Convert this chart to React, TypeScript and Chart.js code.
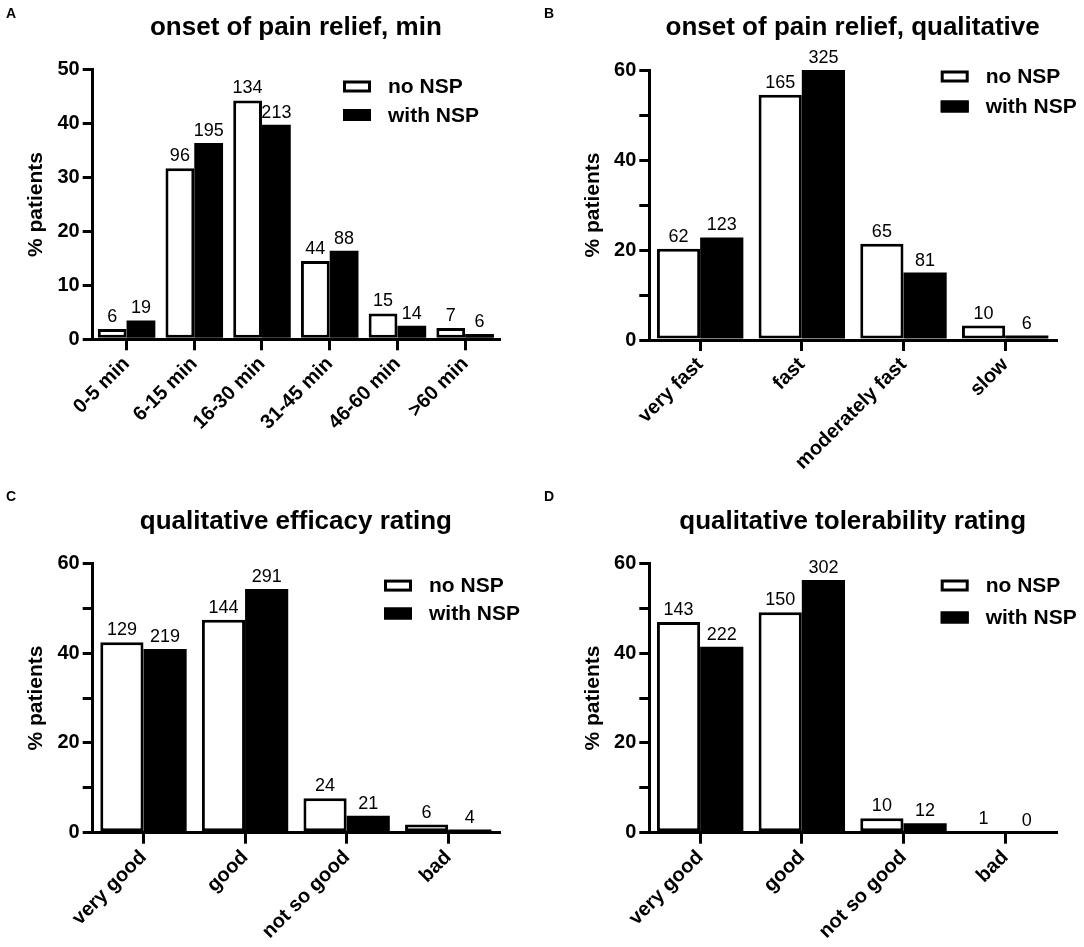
import { useEffect, useRef } from 'react'
import { Chart, registerables } from 'chart.js'

Chart.register(...registerables)

const FONT = "'Liberation Sans', Arial, Helvetica, sans-serif"

// series names (legend)
const seriesNames = ['no NSP', 'with NSP']

// A: onset of pain relief, min
const onsetMinLabels = ['0-5 min', '6-15 min', '16-30 min', '31-45 min', '46-60 min', '>60 min']
const onsetMinNo = [1.9, 31.7, 44.3, 14.5, 4.8, 2.1]
const onsetMinWith = [3.5, 36.4, 39.8, 16.4, 2.5, 1.0]
const onsetMinNoN = [6, 96, 134, 44, 15, 7]
const onsetMinWithN = [19, 195, 213, 88, 14, 6]

// B: onset of pain relief, qualitative
const onsetQualLabels = ['very fast', 'fast', 'moderately fast', 'slow']
const onsetQualNo = [20.3, 54.5, 21.4, 3.2]
const onsetQualWith = [22.8, 60, 15.0, 1.0]
const onsetQualNoN = [62, 165, 65, 10]
const onsetQualWithN = [123, 325, 81, 6]

// C: qualitative efficacy rating
const efficacyLabels = ['very good', 'good', 'not so good', 'bad']
const efficacyNo = [42.4, 47.4, 7.7, 1.8]
const efficacyWith = [40.9, 54.3, 3.8, 0.7]
const efficacyNoN = [129, 144, 24, 6]
const efficacyWithN = [219, 291, 21, 4]

// D: qualitative tolerability rating
const tolerabilityLabels = ['very good', 'good', 'not so good', 'bad']
const tolerabilityNo = [46.9, 49.1, 3.2, 0.3]
const tolerabilityWith = [41.4, 56.3, 2.1, 0]
const tolerabilityNoN = [143, 150, 10, 1]
const tolerabilityWithN = [222, 302, 12, 0]

// y ticks
const yTicksMin = [0, 10, 20, 30, 40, 50]
const yLabelsMin = [0, 10, 20, 30, 40, 50]
const yTicksQual = [0, 10, 20, 30, 40, 50, 60]
const yLabelsQual = [0, 20, 40, 60]

type Panel = {
  letter: string
  title: string
  labels: string[]
  values: number[][]
  counts: number[][]
  max: number
  ticks: number[]
  tickLabels: number[]
  box: { left: number; top: number; width: number; height: number }
  area: { left: number; top: number; right: number; bottom: number }
  letterPos: [number, number]
  titleY: number
  legendX: number
  legendRows: number[]
}

const panels: Panel[] = [
  {
    letter: 'A',
    title: 'onset of pain relief, min',
    labels: onsetMinLabels,
    values: [onsetMinNo, onsetMinWith],
    counts: [onsetMinNoN, onsetMinWithN],
    max: 50,
    ticks: yTicksMin,
    tickLabels: yLabelsMin,
    box: { left: 0, top: 0, width: 542, height: 470 },
    area: { left: 92.7, top: 69.7, right: 499, bottom: 339.3 },
    letterPos: [6, 18],
    titleY: 35,
    legendX: 343,
    legendRows: [86.5, 115],
  },
  {
    letter: 'B',
    title: 'onset of pain relief, qualitative',
    labels: onsetQualLabels,
    values: [onsetQualNo, onsetQualWith],
    counts: [onsetQualNoN, onsetQualWithN],
    max: 60,
    ticks: yTicksQual,
    tickLabels: yLabelsQual,
    box: { left: 542, top: 0, width: 542, height: 500 },
    area: { left: 107.3, top: 70, right: 514, bottom: 340 },
    letterPos: [2, 18],
    titleY: 35,
    legendX: 398.7,
    legendRows: [76.5, 106.5],
  },
  {
    letter: 'C',
    title: 'qualitative efficacy rating',
    labels: efficacyLabels,
    values: [efficacyNo, efficacyWith],
    counts: [efficacyNoN, efficacyWithN],
    max: 60,
    ticks: yTicksQual,
    tickLabels: yLabelsQual,
    box: { left: 0, top: 470, width: 542, height: 477 },
    area: { left: 92.7, top: 93.3, right: 499, bottom: 362.7 },
    letterPos: [6, 31],
    titleY: 59,
    legendX: 384,
    legendRows: [115.6, 143.5],
  },
  {
    letter: 'D',
    title: 'qualitative tolerability rating',
    labels: tolerabilityLabels,
    values: [tolerabilityNo, tolerabilityWith],
    counts: [tolerabilityNoN, tolerabilityWithN],
    max: 60,
    ticks: yTicksQual,
    tickLabels: yLabelsQual,
    box: { left: 542, top: 470, width: 542, height: 477 },
    area: { left: 107.3, top: 93.3, right: 514, bottom: 362.7 },
    letterPos: [2, 31],
    titleY: 59,
    legendX: 398.7,
    legendRows: [115.5, 147.5],
  },
]

const fills = ['#ffffff', '#000000']
const borders = [3, 0]

function decorPlugin(p: Panel) {
  return {
    id: 'decor',
    afterDatasetsDraw(chart: any) {
      const ctx = chart.ctx
      ctx.save()
      ctx.fillStyle = '#000'
      ctx.font = `18px ${FONT}`
      ctx.textAlign = 'center'
      ctx.textBaseline = 'alphabetic'
      chart.data.datasets.forEach((_ds: any, di: number) => {
        chart.getDatasetMeta(di).data.forEach((bar: any, i: number) => {
          ctx.fillText(String(p.counts[di][i]), bar.x, bar.y - 7)
        })
      })
      ctx.restore()
    },
    afterDraw(chart: any) {
      const ctx = chart.ctx
      const a = chart.chartArea
      ctx.save()
      ctx.fillStyle = '#000'
      ctx.textBaseline = 'alphabetic'

      ctx.font = `bold 26px ${FONT}`
      ctx.textAlign = 'center'
      ctx.fillText(p.title, (a.left + a.right) / 2, p.titleY)

      ctx.font = `bold 14px ${FONT}`
      ctx.textAlign = 'left'
      ctx.fillText(p.letter, p.letterPos[0], p.letterPos[1])

      // legend
      ctx.font = `bold 21px ${FONT}`
      ctx.textBaseline = 'middle'
      chart.data.datasets.forEach((ds: any, di: number) => {
        const y = p.legendRows[di]
        ctx.fillStyle = ds.backgroundColor
        ctx.fillRect(p.legendX, y - 6, 28, 12)
        ctx.strokeStyle = '#000'
        ctx.lineWidth = 3
        ctx.strokeRect(p.legendX + 1.5, y - 4.5, 25, 9)
        ctx.fillStyle = '#000'
        ctx.fillText(ds.label, p.legendX + 45, y + 1)
      })
      ctx.restore()
    },
  }
}

function BarPanel({ p }: { p: Panel }) {
  const canvasRef = useRef<HTMLCanvasElement>(null)

  useEffect(() => {
    if (!canvasRef.current) return
    const { box, area } = p
    const titleFont = { family: FONT, size: 21, weight: 'bold' as const, lineHeight: 1.2 }

    const chart = new Chart(canvasRef.current, {
      type: 'bar',
      data: {
        labels: p.labels,
        datasets: p.values.map((vals, i) => ({
          label: seriesNames[i],
          data: vals,
          backgroundColor: fills[i],
          borderColor: '#000',
          borderWidth: borders[i],
          borderSkipped: false,
          categoryPercentage: 0.85,
          barPercentage: 1,
        })),
      },
      options: {
        responsive: false,
        animation: false,
        events: [],
        layout: {
          padding: { left: 0, top: area.top, right: box.width - area.right, bottom: 0 },
        },
        plugins: {
          legend: { display: false },
          tooltip: { enabled: false },
          title: { display: false },
        },
        scales: {
          x: {
            offset: true,
            afterFit: (scale: any) => {
              scale.height = box.height - area.bottom
            },
            grid: {
              display: true,
              offset: false,
              drawOnChartArea: false,
              drawTicks: true,
              tickLength: 11,
              color: '#000',
              lineWidth: 3,
              tickWidth: 3,
            },
            border: { display: true, color: '#000', width: 3 },
            ticks: {
              autoSkip: false,
              minRotation: 45,
              maxRotation: 45,
              padding: 2,
              color: '#000',
              font: { family: FONT, size: 20, weight: 'bold' as const },
            },
          },
          y: {
            min: 0,
            max: p.max,
            afterFit: (scale: any) => {
              scale.width = area.left
            },
            afterBuildTicks: (scale: any) => {
              scale.ticks = p.ticks.map((value) => ({ value }))
            },
            grid: {
              display: true,
              drawOnChartArea: false,
              drawTicks: true,
              tickLength: 10,
              color: '#000',
              lineWidth: 3,
              tickWidth: 3,
            },
            border: { display: true, color: '#000', width: 3 },
            ticks: {
              padding: 3,
              color: '#000',
              font: { family: FONT, size: 20, weight: 'bold' as const },
              callback: (v: any) => (p.tickLabels.includes(Number(v)) ? String(v) : ''),
            },
            title: {
              display: true,
              text: '% patients',
              color: '#000',
              font: titleFont,
              padding: { top: area.left - 56 - 12.6, bottom: 0 },
            },
          },
        },
      },
      plugins: [decorPlugin(p)],
    })

    return () => {
      chart.destroy()
    }
  }, [p])

  return (
    <canvas
      ref={canvasRef}
      width={p.box.width}
      height={p.box.height}
      style={{
        position: 'absolute',
        left: p.box.left,
        top: p.box.top,
        width: p.box.width,
        height: p.box.height,
      }}
    />
  )
}

export default function App() {
  return (
    <div
      style={{
        position: 'absolute',
        left: 0,
        top: 0,
        width: 1084,
        height: 947,
        background: '#fff',
        overflow: 'hidden',
      }}
    >
      {panels.map((p) => (
        <BarPanel key={p.letter} p={p} />
      ))}
    </div>
  )
}
